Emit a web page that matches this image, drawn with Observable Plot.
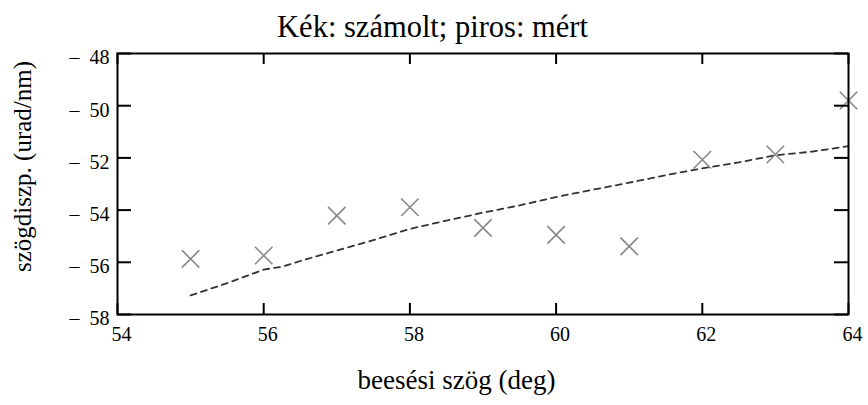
<!DOCTYPE html>
<html>
<head>
<meta charset="utf-8">
<script src="https://cdn.jsdelivr.net/npm/d3@7"></script>
<script src="https://cdn.jsdelivr.net/npm/@observablehq/plot@0.6"></script>
<style>
  html, body { margin: 0; padding: 0; background: #fff; }
</style>
</head>
<body>
<div id="chart"></div>
<script>
// Measured values (crosses)
const measuredX = [55, 56, 57, 58, 59, 60, 61, 62, 63, 64];
const measuredY = [-55.87, -55.74, -54.21, -53.89, -54.68, -54.95, -55.39, -52.07, -51.87, -49.80];

// Computed curve (dashed)
const computedX = [55, 55.5, 56, 56.25, 56.5, 57, 57.5, 58, 58.5, 59, 59.5, 60, 60.5, 61, 61.5, 62, 62.5, 63, 63.5, 64];
const computedY = [-57.27, -56.80, -56.28, -56.17, -55.95, -55.55, -55.15, -54.72, -54.40, -54.10, -53.82, -53.50, -53.22, -52.95, -52.66, -52.40, -52.17, -51.90, -51.76, -51.55];

const xTicks = [54, 56, 58, 60, 62, 64];
const yTicks = [-48, -50, -52, -54, -56, -58];

const title = "Kék: számolt; piros: mért";
const xLabel = "beesési szög (deg)";
const yLabel = "szögdiszp. (urad/nm)";

const measured = measuredX.map((x, i) => ({x, y: measuredY[i]}));
const computed = computedX.map((x, i) => ({x, y: computedY[i]}));

const W = 868, H = 405;
const mL = 117, mR = 20, mT = 53, mB = 91;
const fw = W - mL - mR, fh = H - mT - mB;
const serif = "'Liberation Serif', 'Times New Roman', serif";

const chart = Plot.plot({
  width: W,
  height: H,
  marginLeft: mL,
  marginRight: mR,
  marginTop: mT,
  marginBottom: mB,
  x: {domain: [54, 64], axis: null},
  y: {domain: [-58, -48], axis: null},
  style: {fontFamily: serif, fontSize: "20px", background: "#fff", color: "#000"},
  marks: [
    Plot.line(computed, {x: "x", y: "y", stroke: "#333", strokeWidth: 1.8, strokeDasharray: "6,5"}),
    Plot.dot(measured, {x: "x", y: "y", symbol: "times", r: 8, stroke: "#888", strokeWidth: 1.6}),
    // inward ticks on all four sides
    Plot.tickY(yTicks, {y: d => d, insetRight: fw - 14, stroke: "#000", strokeWidth: 2}),
    Plot.tickY(yTicks, {y: d => d, insetLeft: fw - 14, stroke: "#000", strokeWidth: 2}),
    Plot.tickX(xTicks, {x: d => d, insetTop: fh - 11, stroke: "#000", strokeWidth: 2}),
    Plot.tickX(xTicks, {x: d => d, insetBottom: fh - 11, stroke: "#000", strokeWidth: 2}),
    Plot.frame({stroke: "#000", strokeWidth: 2}),
    // tick labels
    Plot.text(yTicks, {y: d => d, frameAnchor: "left", textAnchor: "end", lineAnchor: "middle", dx: -8, dy: 4.5,
      text: d => "\u2013\u2002" + Math.abs(d), fontSize: 20, fontFamily: serif, fill: "#000"}),
    Plot.text(xTicks, {x: d => d, frameAnchor: "bottom", textAnchor: "middle", lineAnchor: "top", dx: 4, dy: 12,
      text: d => String(d), fontSize: 20, fontFamily: serif, fill: "#000"}),
    // titles
    Plot.text([title], {frameAnchor: "top", text: d => d, textAnchor: "middle", dx: 432 - (mL + fw / 2), dy: 36 - mT, lineAnchor: "bottom", fontSize: 30.5, fontFamily: serif, fill: "#000"}),
    Plot.text([xLabel], {frameAnchor: "bottom", text: d => d, textAnchor: "middle", dx: 456 - (mL + fw / 2), dy: 388 - (H - mB), lineAnchor: "bottom", fontSize: 27, fontFamily: serif, fill: "#000"}),
    Plot.text([yLabel], {frameAnchor: "left", text: d => d, textAnchor: "middle", rotate: -90, dx: 22 - mL, dy: 166 - (mT + fh / 2), lineAnchor: "middle", fontSize: 25, fontFamily: serif, fill: "#000"})
  ]
});
document.getElementById("chart").appendChild(chart);
</script>
</body>
</html>
